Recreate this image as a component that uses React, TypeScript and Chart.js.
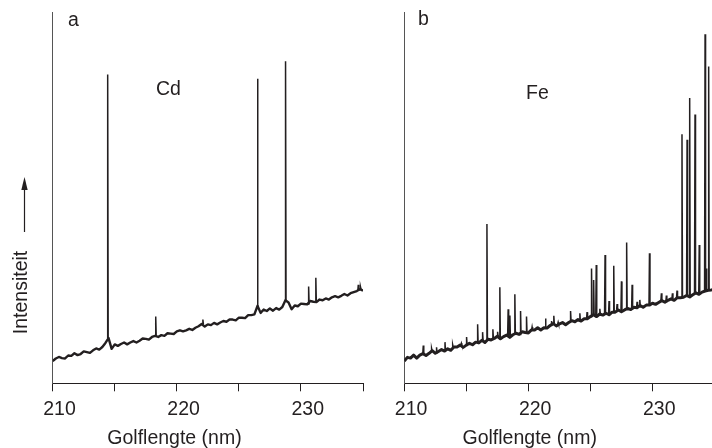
import React, { useEffect, useRef } from "react";
import { Chart, registerables } from "chart.js";

Chart.register(...registerables);

// ---- data ----
// Baseline spectra sampled every 0.25 nm from 210 to 235 nm (intensity in arbitrary units, 0..100)
const wavelengthStart = 210;
const wavelengthStep = 0.25;

const cdBaseline = [
  6.0, 6.7, 7.1, 6.8, 6.7, 7.5, 7.4, 8.1, 7.6, 7.9,
  8.6, 8.4, 8.2, 8.9, 9.4, 9.1, 9.8, 10.9, 12.2, 9.3,
  10.5, 10.1, 10.6, 11.0, 10.5, 11.0, 11.4, 11.0, 11.5, 12.1,
  12.0, 11.8, 12.5, 12.8, 12.5, 13.0, 12.8, 13.5, 13.4, 13.3,
  14.0, 14.3, 14.0, 14.3, 14.7, 14.4, 15.0, 15.4, 16.0, 15.3,
  15.9, 15.7, 16.3, 15.9, 16.4, 16.8, 16.6, 17.2, 17.2, 17.0,
  17.7, 17.7, 17.6, 18.4, 18.4, 18.6, 20.9, 19.0, 19.9, 19.5,
  20.2, 19.6, 20.3, 19.9, 20.6, 22.4, 21.8, 20.0, 21.0, 20.8,
  21.5, 21.4, 21.3, 22.2, 22.0, 21.9, 22.6, 22.4, 22.9, 22.6,
  23.2, 23.5, 23.2, 23.6, 24.1, 23.7, 24.3, 24.6, 24.9, 25.4,
  25.0,
];

const feBaseline = [
  6.0, 7.0, 6.8, 7.6, 6.8, 7.6, 8.0, 7.5, 8.1, 8.8,
  8.1, 8.6, 9.1, 8.7, 9.3, 8.9, 9.8, 9.8, 10.3, 9.7,
  10.3, 10.8, 10.4, 11.1, 10.9, 11.6, 11.0, 11.9, 11.7, 12.1,
  12.7, 12.0, 12.6, 13.0, 12.4, 13.1, 13.5, 13.2, 13.9, 13.7,
  13.6, 14.4, 14.4, 15.0, 14.4, 15.0, 14.9, 15.6, 16.1, 15.5,
  16.0, 16.4, 15.8, 16.4, 16.9, 16.6, 17.2, 16.8, 17.4, 17.4,
  18.0, 18.5, 18.0, 18.7, 18.4, 18.9, 18.5, 19.2, 19.2, 19.8,
  19.3, 19.8, 20.2, 19.9, 20.5, 20.4, 21.0, 20.5, 21.1, 21.1,
  21.6, 21.3, 21.8, 22.3, 21.9, 22.4, 22.8, 22.4, 23.1, 23.1,
  23.2, 23.7, 23.3, 23.9, 24.4, 24.0, 24.6, 24.9, 25.1, 25.2,
  25.4,
];

// Emission lines: wavelength (nm) and peak intensity
const cdLineWavelengths = [214.43, 218.3, 222.1, 226.5, 228.76, 230.62, 231.2, 234.62, 234.8];
const cdLineHeights = [83.3, 18.0, 17.2, 82.2, 86.9, 26.1, 28.5, 26.6, 26.0];

const feLineWavelengths = [
  211.53, 212.2, 212.6, 213.28, 213.9, 214.6, 215.02, 215.91, 216.31, 216.66,
  217.14, 217.52, 217.7, 218.37, 218.51, 218.91, 219.37, 219.85, 220.3, 221.38,
  221.87, 222.05, 222.4, 223.4, 224.15, 224.73, 225.09, 225.26, 225.47, 225.76,
  226.18, 226.5, 226.88, 227.15, 227.5, 227.92, 228.36, 228.76, 228.98, 229.76,
  230.72, 231.12, 231.61, 231.98, 232.38, 232.79, 233.0, 233.43, 233.77, 234.24,
  234.33, 234.53,
];
const feLineHeights = [
  10.2, 9.4, 9.7, 11.1, 10.4, 10.8, 12.5, 15.9, 13.8, 43.0,
  14.6, 13.9, 25.9, 20.0, 18.3, 24.0, 19.5, 18.0, 15.2, 17.5,
  16.8, 18.2, 16.5, 19.5, 18.9, 19.2, 31.0, 27.9, 31.9, 20.1,
  34.6, 22.2, 31.7, 21.4, 27.5, 38.0, 26.6, 22.0, 22.5, 35.1,
  24.3, 23.7, 24.3, 25.0, 67.2, 65.7, 77.0, 72.5, 37.3, 94.2,
  31.0, 85.5,
];

const xMin = 210;
const xMax = 235;
const xTickValues = [210, 215, 220, 225, 230, 235];
const xTickLabels = ["210", "", "220", "", "230", ""];

// ---- styling ----
const INK = "#231f20";
const FONT = "'Liberation Sans', Arial, Helvetica, sans-serif";
const FS = 19.5;

function baselinePoints(base: number[]) {
  return base.map((v, i) => ({ x: wavelengthStart + i * wavelengthStep, y: v }));
}

function spikePoints(ws: number[], hs: number[], base: number[]) {
  const pts: { x: number; y: number | null }[] = [];
  ws.forEach((w, k) => {
    const foot = base[Math.round((w - wavelengthStart) / wavelengthStep)];
    pts.push({ x: w - 0.04, y: foot });
    pts.push({ x: w, y: hs[k] });
    pts.push({ x: w + 0.04, y: foot });
    pts.push({ x: w + 0.05, y: null });
  });
  return pts;
}

function makeConfig(base: number[], ws: number[], hs: number[], padL: number, padR: number, baseWidth: number): any {
  return {
    type: "line",
    data: {
      datasets: [
        {
          data: baselinePoints(base),
          borderColor: INK,
          borderWidth: baseWidth,
          pointRadius: 0,
          tension: 0,
          borderJoinStyle: "round",
        },
        {
          data: spikePoints(ws, hs, base),
          borderColor: INK,
          borderWidth: 1.5,
          pointRadius: 0,
          tension: 0,
          spanGaps: false,
        },
      ],
    },
    options: {
      animation: false,
      responsive: false,
      maintainAspectRatio: false,
      events: [],
      layout: { padding: { left: padL, right: padR, top: 12.7, bottom: 0 } },
      plugins: { legend: { display: false }, tooltip: { enabled: false }, title: { display: false } },
      scales: {
        x: {
          type: "linear",
          min: xMin,
          max: xMax,
          afterFit: (s: any) => {
            s.height = 64.7;
          },
          afterBuildTicks: (s: any) => {
            s.ticks = xTickValues.map((v) => ({ value: v }));
          },
          ticks: {
            autoSkip: false,
            maxRotation: 0,
            minRotation: 0,
            padding: 7,
            labelOffset: 6.8,
            color: INK,
            font: { family: FONT, size: FS, lineHeight: 1.2 },
            callback: (v: number) => {
              const i = xTickValues.indexOf(v);
              return i >= 0 ? xTickLabels[i] : "";
            },
          },
          grid: { drawOnChartArea: false, drawTicks: true, tickLength: 8, color: INK, lineWidth: 1 },
          border: { display: true, color: INK, width: 1 },
        },
        y: {
          min: 0,
          max: 100,
          afterFit: (s: any) => {
            s.width = 0;
          },
          ticks: { display: false },
          grid: { display: false, drawTicks: false },
          border: { display: true, color: "#555", width: 1 },
        },
      },
    },
  };
}

function Panel(props: { cfg: () => any; left: number }) {
  const ref = useRef<HTMLCanvasElement | null>(null);
  useEffect(() => {
    if (!ref.current) return;
    const chart = new Chart(ref.current, props.cfg());
    return () => chart.destroy();
  }, []);
  return (
    <canvas
      ref={ref}
      width={370}
      height={448}
      style={{ position: "absolute", left: props.left, top: 0, width: 370, height: 448 }}
    />
  );
}

export default function App() {
  const textStyle = { fontFamily: FONT, fontSize: FS, fill: INK } as any;
  return (
    <div
      style={{
        position: "absolute",
        left: 0,
        top: 0,
        width: 712,
        height: 448,
        overflow: "hidden",
        background: "#fff",
      }}
    >
      <Panel left={0} cfg={() => makeConfig(cdBaseline, cdLineWavelengths, cdLineHeights, 52.7, 6.7, 2.4)} />
      <Panel left={352} cfg={() => makeConfig(feBaseline, feLineWavelengths, feLineHeights, 52.3, 7.5, 3)} />
      <svg
        width={712}
        height={448}
        style={{ position: "absolute", left: 0, top: 0, pointerEvents: "none" }}
      >
        <text x={68} y={26} style={textStyle}>a</text>
        <text x={156} y={95} style={textStyle}>Cd</text>
        <text x={418} y={25} style={textStyle}>b</text>
        <text x={526} y={99} style={textStyle}>Fe</text>
        <text x={174.5} y={444} textAnchor="middle" style={textStyle}>Golflengte (nm)</text>
        <text x={529.7} y={444} textAnchor="middle" style={textStyle}>Golflengte (nm)</text>
        <text transform="translate(26.7,292.5) rotate(-90)" textAnchor="middle" style={textStyle}>Intensiteit</text>
        <line x1={24.5} y1={232} x2={24.5} y2={186} stroke={INK} strokeWidth={1.2} />
        <polygon points="24.5,177 21.3,190 27.7,190" fill={INK} />
      </svg>
    </div>
  );
}
